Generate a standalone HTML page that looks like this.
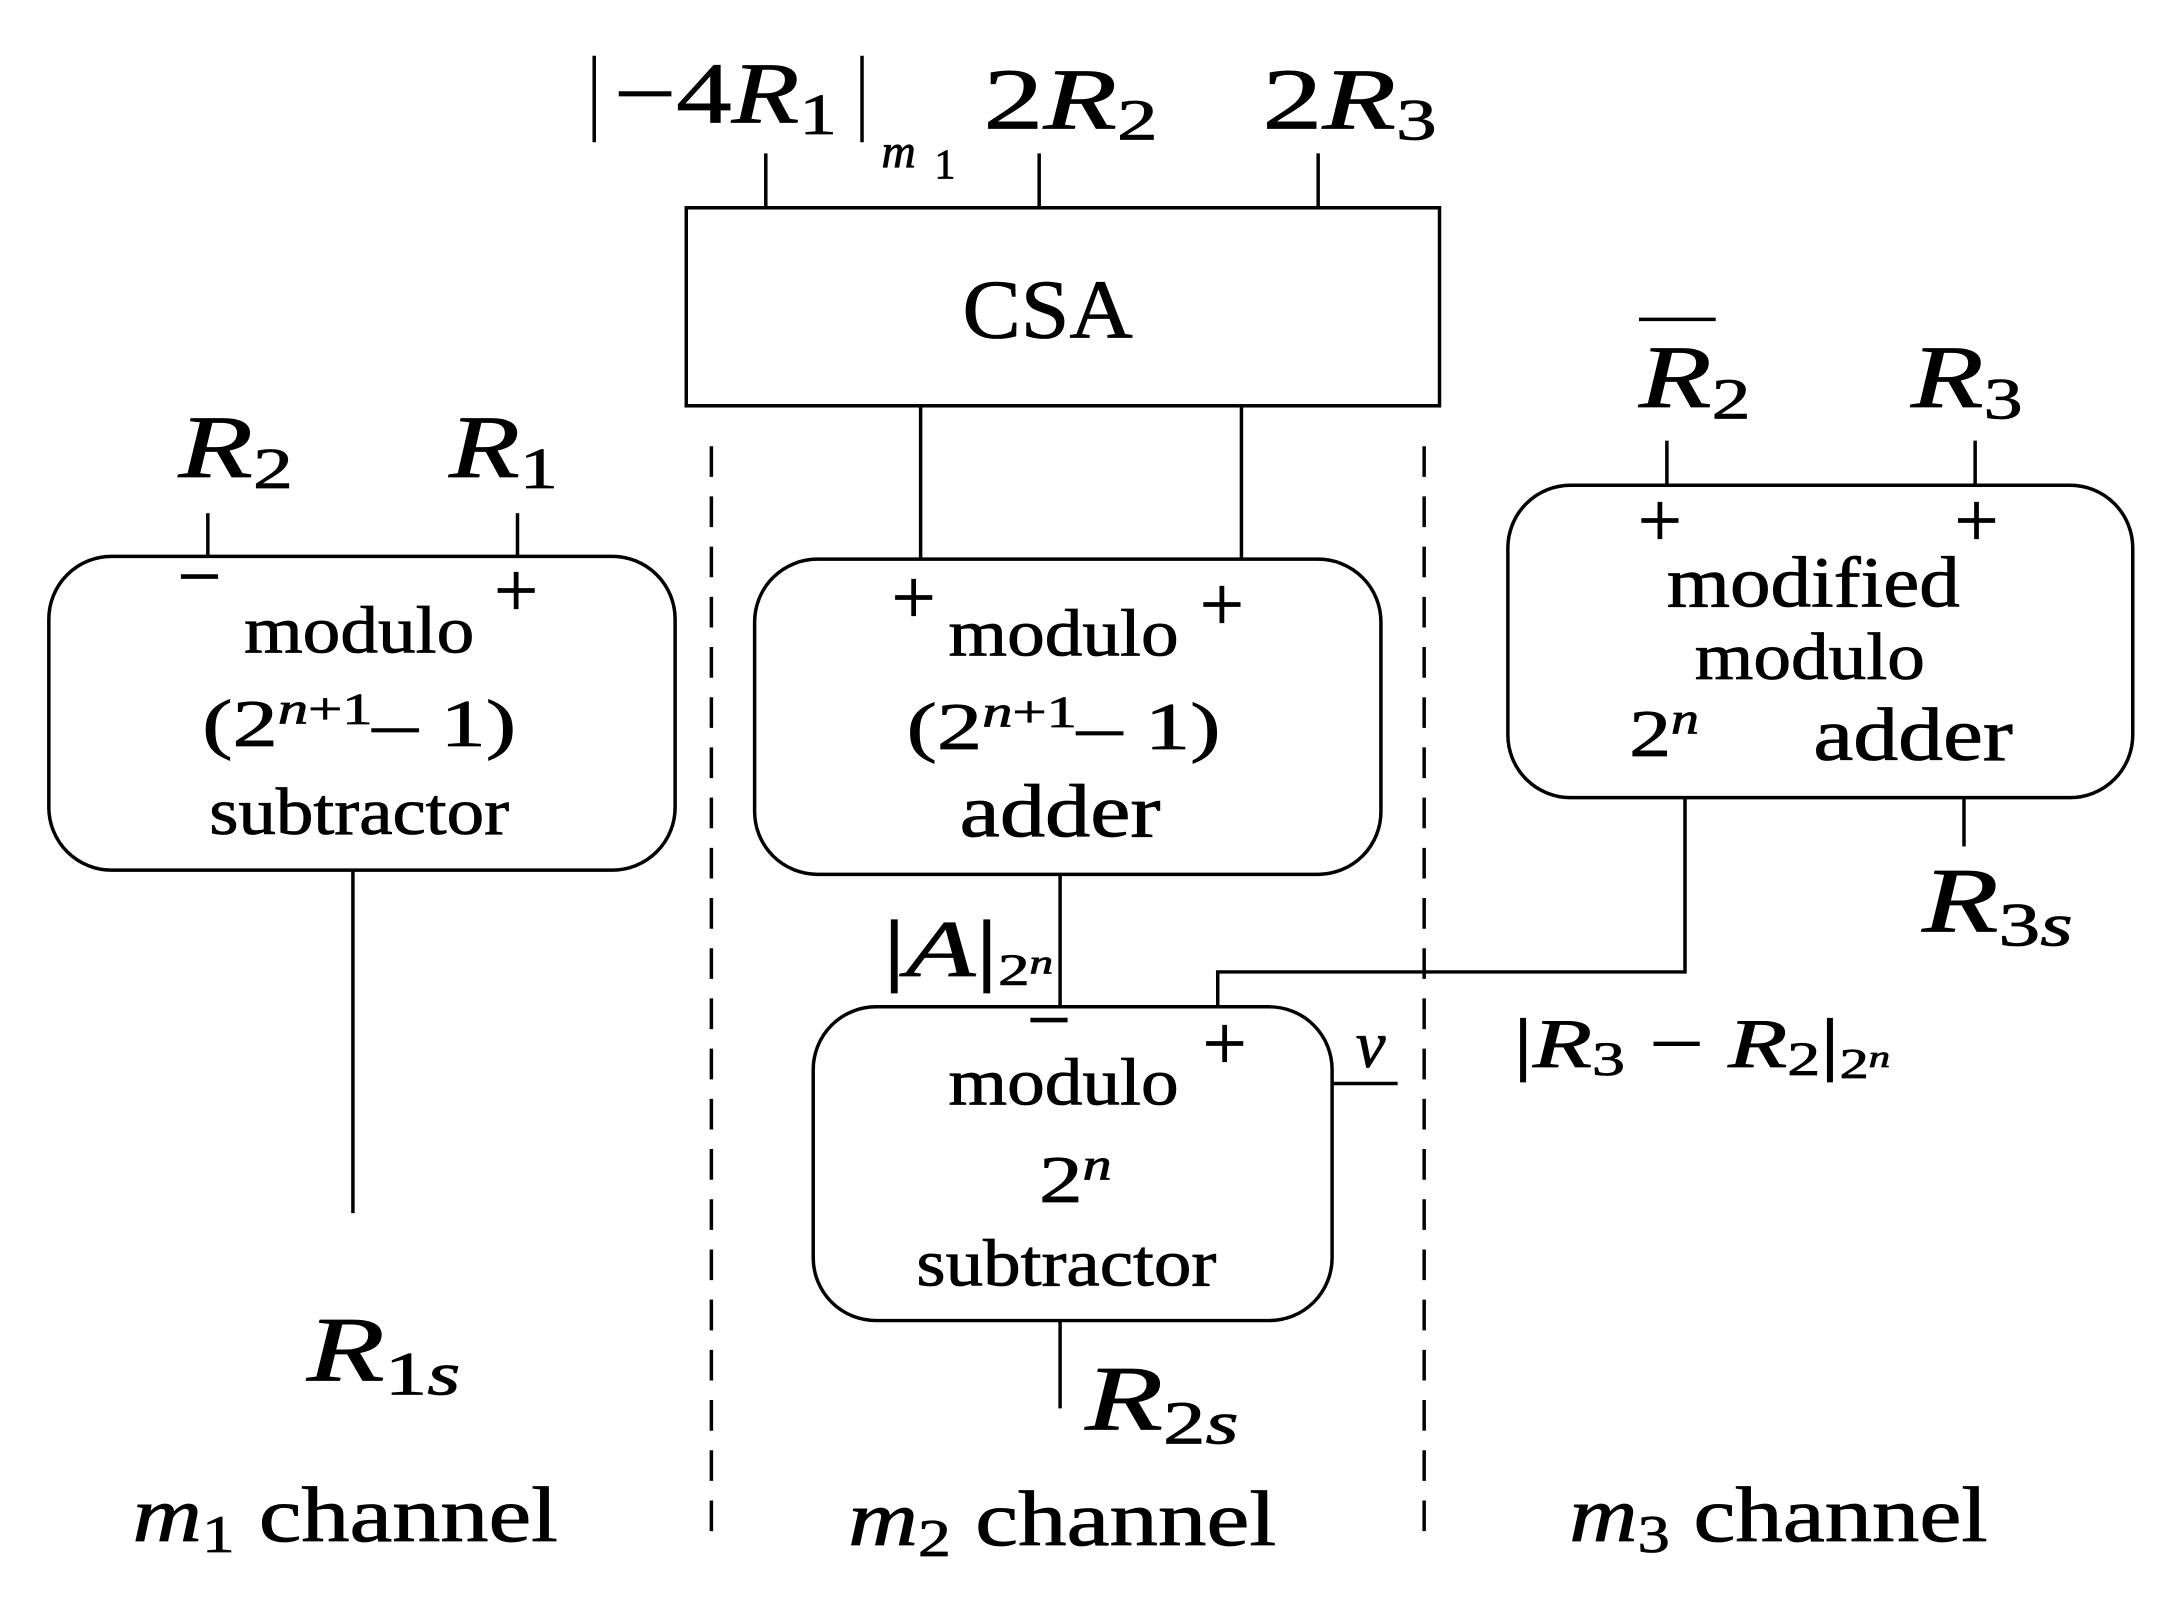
<!DOCTYPE html>
<html><head><meta charset="utf-8">
<style>
html,body{margin:0;padding:0;background:#fff;}
svg{display:block;}
text{font-family:"Liberation Serif",serif;fill:#000;stroke:#000;stroke-width:0.6;}
.i{font-style:italic;}
</style></head>
<body>
<svg width="2176" height="1612" viewBox="0 0 1560 1156" preserveAspectRatio="none" xmlns="http://www.w3.org/2000/svg">
<g stroke="#000" stroke-width="2.5" fill="none">
<line x1="549" y1="110" x2="549" y2="149"/>
<line x1="745" y1="110" x2="745" y2="149"/>
<line x1="945" y1="110" x2="945" y2="149"/>
<rect x="492" y="149" width="540" height="142"/>
<line x1="660" y1="291" x2="660" y2="401"/>
<line x1="890" y1="291" x2="890" y2="401"/>
<line x1="510" y1="320" x2="510" y2="1100" stroke-dasharray="22,14"/>
<line x1="1021" y1="320" x2="1021" y2="1100" stroke-dasharray="22,14"/>
<rect x="35" y="399" width="449" height="225" rx="45"/>
<line x1="149" y1="368" x2="149" y2="399"/>
<line x1="371" y1="368" x2="371" y2="399"/>
<line x1="253" y1="624" x2="253" y2="870"/>
<rect x="541" y="401" width="449" height="226" rx="45"/>
<line x1="760" y1="627" x2="760" y2="722"/>
<rect x="583" y="722" width="372" height="225" rx="45"/>
<line x1="955" y1="777" x2="1002" y2="777"/>
<line x1="760" y1="947" x2="760" y2="1010"/>
<rect x="1081" y="348" width="448" height="224" rx="45"/>
<line x1="1195" y1="316" x2="1195" y2="348"/>
<line x1="1416" y1="316" x2="1416" y2="348"/>
<polyline points="1208,572 1208,697 873,697 873,722"/>
<line x1="1408" y1="572" x2="1408" y2="607"/>
<line x1="1175" y1="229" x2="1230" y2="229"/>
<line x1="426" y1="40" x2="426" y2="102"/>
<line x1="618" y1="40" x2="618" y2="102"/>
</g>
<text x="440" y="88" font-size="62" textLength="160" lengthAdjust="spacingAndGlyphs">−4<tspan class="i">R</tspan><tspan font-size="42" dy="8">1</tspan></text>
<text x="632" y="120" font-size="34" class="i">m</text><text x="670" y="128" font-size="30">1</text>
<text x="705" y="92" font-size="62" textLength="125" lengthAdjust="spacingAndGlyphs">2<tspan class="i">R</tspan><tspan font-size="42" dy="8">2</tspan></text>
<text x="905" y="92" font-size="62" textLength="125" lengthAdjust="spacingAndGlyphs">2<tspan class="i">R</tspan><tspan font-size="42" dy="8">3</tspan></text>
<text x="690" y="242" font-size="60" textLength="122" lengthAdjust="spacingAndGlyphs">CSA</text>
<!-- left -->
<text x="128" y="342" font-size="64" class="i" textLength="82" lengthAdjust="spacingAndGlyphs">R<tspan font-size="42" dy="8" font-style="normal">2</tspan></text>
<text x="322" y="342" font-size="64" class="i" textLength="78" lengthAdjust="spacingAndGlyphs">R<tspan font-size="42" dy="8" font-style="normal">1</tspan></text>
<text x="143" y="432" font-size="56" text-anchor="middle">−</text>
<text x="370" y="442" font-size="56" text-anchor="middle">+</text>
<text x="175" y="468" font-size="48" textLength="165" lengthAdjust="spacingAndGlyphs">modulo</text>
<text x="145" y="535" font-size="48" textLength="225" lengthAdjust="spacingAndGlyphs">(2<tspan font-size="32" dy="-16" class="i">n</tspan><tspan font-size="32">+1</tspan><tspan dy="16">– 1)</tspan></text>
<text x="150" y="598" font-size="48" textLength="215" lengthAdjust="spacingAndGlyphs">subtractor</text>
<text x="220" y="990" font-size="66" class="i" textLength="110" lengthAdjust="spacingAndGlyphs">R<tspan font-size="44" dy="10" font-style="normal">1</tspan><tspan font-size="44">s</tspan></text>
<text x="95" y="1105" font-size="56" textLength="305" lengthAdjust="spacingAndGlyphs"><tspan class="i">m</tspan><tspan font-size="38" dy="8">1</tspan><tspan dy="-8"> channel</tspan></text>
<!-- middle -->
<text x="655" y="447" font-size="56" text-anchor="middle">+</text>
<text x="876" y="452" font-size="56" text-anchor="middle">+</text>
<text x="680" y="470" font-size="48" textLength="165" lengthAdjust="spacingAndGlyphs">modulo</text>
<text x="650" y="537" font-size="48" textLength="225" lengthAdjust="spacingAndGlyphs">(2<tspan font-size="32" dy="-16" class="i">n</tspan><tspan font-size="32">+1</tspan><tspan dy="16">– 1)</tspan></text>
<text x="688" y="600" font-size="54" textLength="144" lengthAdjust="spacingAndGlyphs">adder</text>
<text x="633" y="700" font-size="58" textLength="122" lengthAdjust="spacingAndGlyphs">|<tspan class="i">A</tspan>|<tspan font-size="32" dy="6">2</tspan><tspan font-size="24" dy="-8" class="i">n</tspan></text>
<text x="752" y="750" font-size="56" text-anchor="middle">−</text>
<text x="878" y="767" font-size="56" text-anchor="middle">+</text>
<text x="680" y="792" font-size="48" textLength="165" lengthAdjust="spacingAndGlyphs">modulo</text>
<text x="745" y="862" font-size="48" textLength="52" lengthAdjust="spacingAndGlyphs">2<tspan font-size="32" dy="-16" class="i">n</tspan></text>
<text x="657" y="922" font-size="48" textLength="215" lengthAdjust="spacingAndGlyphs">subtractor</text>
<text x="972" y="765" font-size="48" class="i">v</text>
<text x="778" y="1025" font-size="66" class="i" textLength="110" lengthAdjust="spacingAndGlyphs">R<tspan font-size="44" dy="10" font-style="normal">2</tspan><tspan font-size="44">s</tspan></text>
<text x="608" y="1108" font-size="56" textLength="307" lengthAdjust="spacingAndGlyphs"><tspan class="i">m</tspan><tspan font-size="38" dy="8">2</tspan><tspan dy="-8"> channel</tspan></text>
<!-- right -->
<text x="1175" y="292" font-size="64" class="i" textLength="80" lengthAdjust="spacingAndGlyphs">R<tspan font-size="42" dy="8" font-style="normal">2</tspan></text>
<text x="1370" y="292" font-size="64" class="i" textLength="80" lengthAdjust="spacingAndGlyphs">R<tspan font-size="42" dy="8" font-style="normal">3</tspan></text>
<text x="1190" y="392" font-size="56" text-anchor="middle">+</text>
<text x="1417" y="392" font-size="56" text-anchor="middle">+</text>
<text x="1195" y="435" font-size="52" textLength="210" lengthAdjust="spacingAndGlyphs">modified</text>
<text x="1215" y="487" font-size="48" textLength="165" lengthAdjust="spacingAndGlyphs">modulo</text>
<text x="1168" y="542" font-size="48" textLength="50" lengthAdjust="spacingAndGlyphs">2<tspan font-size="32" dy="-16" class="i">n</tspan></text>
<text x="1300" y="545" font-size="54" textLength="143" lengthAdjust="spacingAndGlyphs">adder</text>
<text x="1378" y="668" font-size="66" class="i" textLength="108" lengthAdjust="spacingAndGlyphs">R<tspan font-size="44" dy="10" font-style="normal">3</tspan><tspan font-size="44">s</tspan></text>
<text x="1085" y="765" font-size="50" textLength="270" lengthAdjust="spacingAndGlyphs">|<tspan class="i">R</tspan><tspan font-size="34" dy="6">3</tspan><tspan dy="-6"> − </tspan><tspan class="i">R</tspan><tspan font-size="34" dy="6">2</tspan><tspan dy="-6">|</tspan><tspan font-size="30" dy="8">2</tspan><tspan font-size="22" dy="-8" class="i">n</tspan></text>
<text x="1125" y="1105" font-size="56" textLength="300" lengthAdjust="spacingAndGlyphs"><tspan class="i">m</tspan><tspan font-size="38" dy="8">3</tspan><tspan dy="-8"> channel</tspan></text>
</svg>
</body></html>
